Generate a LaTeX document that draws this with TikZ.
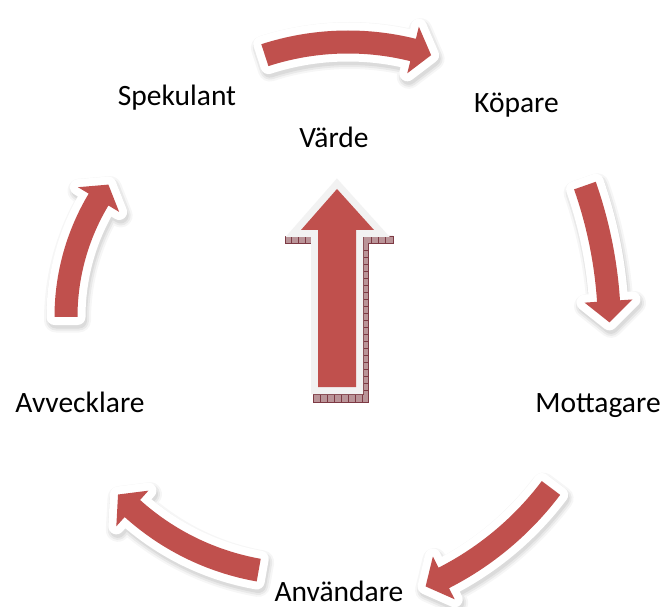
\documentclass[tikz,border=0pt]{standalone}
\usepackage{fontspec}
\setmainfont{Carlito}
\definecolor{arrowred}{HTML}{C0504D}
\definecolor{outlinegray}{HTML}{F2F2F2}
\definecolor{mauve}{RGB}{186,148,152}
\definecolor{darkmauve}{RGB}{125,58,68}
% curved block arrow: radius, start angle, end angle (head base), head angle
\newcommand\ashape[4]{({#2}:{#1+11.5}) arc[start angle={#2}, end angle={#3}, radius={#1+11.5}] -- ({#3}:{#1+24}) -- ({#3+#4}:{#1}) -- ({#3}:{#1-24}) -- ({#3}:{#1-11.5}) arc[start angle={#3}, end angle={#2}, radius={#1-11.5}] -- cycle}
\newcommand\carrow[6]{%
\begin{scope}[shift={(#1,#2)}]
 \path[draw=black, fill=black, opacity=0.035, line width=24, line join=round, shift={(1.5,3.5)}] \ashape{#3}{#4}{#5}{#6};
 \path[draw=black, fill=black, opacity=0.05, line width=20, line join=round, shift={(1.5,3.5)}] \ashape{#3}{#4}{#5}{#6};
 \path[draw=black, fill=black, opacity=0.06, line width=16, line join=round, shift={(1.5,3.5)}] \ashape{#3}{#4}{#5}{#6};
 \path[draw=white, fill=white, line width=16, line join=round] \ashape{#3}{#4}{#5}{#6};
 \path[fill=arrowred] \ashape{#3}{#4}{#5}{#6};
\end{scope}}
\begin{document}
\begin{tikzpicture}[x=1pt, y=-1pt,
  lbl/.style={font=\fontsize{29.5}{34}\selectfont, inner sep=0pt, anchor=base, text=black}]
\useasboundingbox[fill=white] (0,0) rectangle (665,607);
% cycle arrows
\carrow{348}{311}{269}{-108}{-76}{4}
\carrow{172.5}{330}{437}{-19.3}{-3.8}{2.8}
\carrow{302.6}{300.8}{311}{37}{63}{3.7}
\carrow{303}{319}{255}{100}{132}{4.5}
\carrow{294}{317}{228}{180}{211}{4.5}
% central arrow: shadow
\path[fill=mauve, draw=darkmauve, line width=0.6] (285,236) rectangle (311,243);
\path[fill=mauve, draw=darkmauve, line width=0.6] (363,236) -- (393,236) -- (393,243) -- (368,243) -- (368,402) -- (313,402) -- (313,394) -- (363,394) -- cycle;
\foreach \y in {250,257,...,390} \draw[darkmauve, line width=0.5] (363,\y) -- (368,\y);
\foreach \x in {320,327,...,362} \draw[darkmauve, line width=0.5] (\x,394) -- (\x,402);
\foreach \x in {291,298,305} \draw[darkmauve, line width=0.5] (\x,236) -- (\x,243);
\foreach \x in {371,378,385} \draw[darkmauve, line width=0.5] (\x,236) -- (\x,243);
% central arrow
\path[draw=outlinegray, line width=14, line join=miter] (337,189) -- (374,230) -- (356,230) -- (356,387) -- (318,387) -- (318,230) -- (301,230) -- cycle;
\path[fill=arrowred] (337,189) -- (374,230) -- (356,230) -- (356,387) -- (318,387) -- (318,230) -- (301,230) -- cycle;
% labels
\node[lbl] (spekulant) at (177,106) {Spekulant};
\node[lbl] (kopare) at (516.5,113) {Köpare};
\node[lbl] (varde) at (334,148) {Värde};
\node[lbl] (mottagare) at (598,412) {Mottagare};
\node[lbl] (avvecklare) at (80,412) {Avvecklare};
\node[lbl] (anvandare) at (339,601) {Användare};
\end{tikzpicture}
\end{document}
